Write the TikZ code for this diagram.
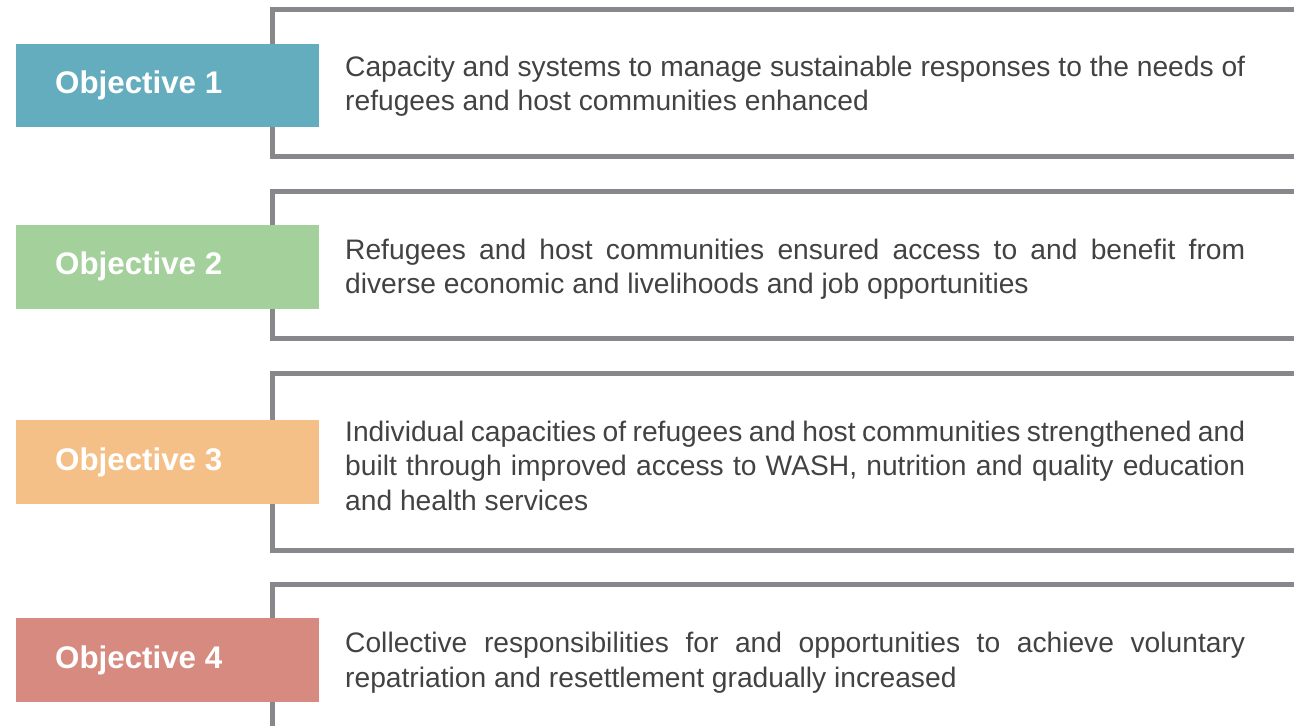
\documentclass[tikz,border=0pt]{standalone}
\usepackage{fontspec}
\setmainfont{Liberation Sans}
\definecolor{obja}{HTML}{63ADBF}
\definecolor{objb}{HTML}{A3D09B}
\definecolor{objc}{HTML}{F5C088}
\definecolor{objd}{HTML}{D68A80}
\definecolor{framegray}{HTML}{87878C}
\definecolor{bodytext}{HTML}{424242}
\tikzset{
  frameline/.style={draw=framegray, line width=5pt},
  objlabel/.style={anchor=north west, inner sep=0pt, minimum width=303pt, minimum height=#1},
  objtitle/.style={anchor=west, inner sep=0pt, text=white, font=\fontsize{31.3}{36}\selectfont\bfseries},
  objtext/.style={anchor=base west, inner sep=0pt, text width=900pt, align=justify, text=bodytext, font=\fontsize{28.2}{34.5}\selectfont}
}
\begin{document}
\begin{tikzpicture}[x=1pt,y=-1pt]
\useasboundingbox (0,0) rectangle (1294,726);
\clip (0,0) rectangle (1294,726);
% frames
\draw[frameline] (1300,9.5) -- (272.5,9.5) -- (272.5,156.5) -- (1300,156.5);
\draw[frameline] (1300,191.5) -- (272.5,191.5) -- (272.5,338) -- (1300,338);
\draw[frameline] (1300,373) -- (272.5,373) -- (272.5,550.5) -- (1300,550.5);
\draw[frameline] (1300,584.5) -- (272.5,584.5) -- (272.5,730);
% labels
\node[objlabel=83pt, fill=obja] (l1) at (16,44) {};
\node[objlabel=83.5pt, fill=objb] (l2) at (16,225) {};
\node[objlabel=84pt, fill=objc] (l3) at (16,420) {};
\node[objlabel=84pt, fill=objd] (l4) at (16,618) {};
\node[objtitle] (t1) at (55,85.5) {Objective 1};
\node[objtitle] (t2) at (55,266.7) {Objective 2};
\node[objtitle] (t3) at (55,462) {Objective 3};
\node[objtitle] (t4) at (55,660) {Objective 4};
% texts
\node[objtext] (d1) at (345,76) {Capacity and systems to manage sustainable responses to the needs of\linebreak refugees and host communities enhanced};
\node[objtext] (d2) at (345,259.3) {Refugees and host communities ensured access to and benefit from\linebreak diverse economic and livelihoods and job opportunities};
\node[objtext] (d3) at (345,441) {Individual capacities of refugees and host communities strengthened and\linebreak built through improved access to WASH, nutrition and quality education\linebreak and health services};
\node[objtext] (d4) at (345,652.5) {Collective responsibilities for and opportunities to achieve voluntary\linebreak repatriation and resettlement gradually increased};
\end{tikzpicture}
\end{document}
